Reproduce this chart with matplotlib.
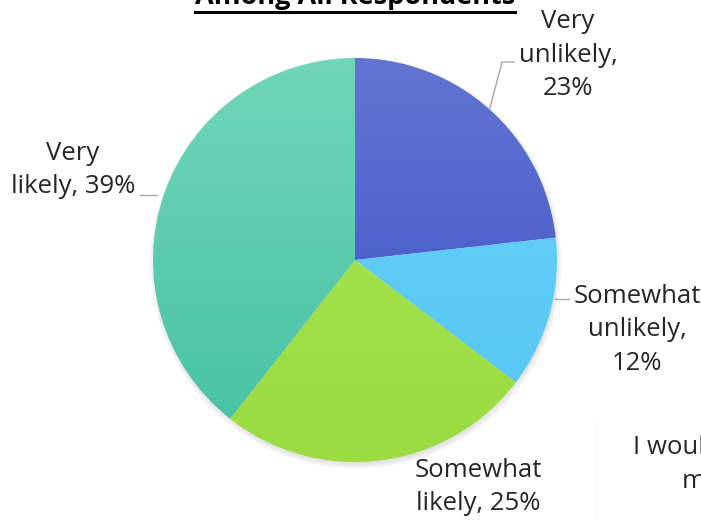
import matplotlib
matplotlib.use("Agg")
import matplotlib.pyplot as plt
import numpy as np
from matplotlib.colors import LinearSegmentedColormap
from matplotlib.patches import Circle

plt.rcParams['font.family'] = ['Open Sans', 'DejaVu Sans']

# data, clockwise from 12 o'clock
labels = ["Very\nunlikely,\n23%", "Somewhat\nunlikely,\n12%",
          "Somewhat\nlikely, 25%", "Very\nlikely, 39%"]
values = [23, 12, 25, 39]
# (top colour, bottom colour) of each slice gradient
grads = [("#6275d2", "#3a4ec5"), ("#6ad2f8", "#55c6f3"),
         ("#a9e654", "#9adc42"), ("#72d6b8", "#45c1a4")]

W, H = 701, 520
fig = plt.figure(figsize=(W / 100, H / 100), dpi=100)
ax = fig.add_axes([0, 0, 1, 1])

cx, cy, r = 355, 260, 202

# soft shadow under the pie
for k in range(8):
    ax.add_patch(Circle((cx + 1, cy - 3), r + 4 - k, color='#808080',
                        alpha=0.035, lw=0, zorder=0))

wedges, _ = ax.pie(values, center=(cx, cy), radius=r, startangle=90,
                   counterclock=False, frame=True,
                   wedgeprops=dict(linewidth=0))

grad = np.linspace(0, 1, 256).reshape(-1, 1)
for w, (top, bot) in zip(wedges, grads):
    w.set_facecolor('none')
    cmap = LinearSegmentedColormap.from_list('g', [top, bot])
    im = ax.imshow(grad, cmap=cmap, aspect='auto', origin='upper',
                   extent=[cx - r, cx + r, cy - r, cy + r], zorder=1)
    im.set_clip_path(w)
ax.set_xlim(0, W)
ax.set_ylim(0, H)
ax.set_aspect('equal')
ax.axis('off')

txt = dict(fontsize=18.5, color='#262626', ha='center', va='center',
           linespacing=1.45, zorder=3)
ax.text(568, 465, labels[0], **txt)
ax.text(637, 190, labels[1], **txt)
ax.text(478, 33, labels[2], **txt)
ax.text(73, 350, labels[3], **txt)

# leader lines
lc = dict(color='#a6a6a6', lw=1.0, zorder=2)
ax.plot([490, 502, 514], [412, 458, 458], **lc)
ax.plot([555, 569], [221, 221], **lc)
ax.plot([140, 157], [325, 325], **lc)

# title, mostly cropped off the top
t = ax.text(355, 510, "Among All Respondents", fontsize=19.5, fontweight='bold',
            color='black', ha='center', va='bottom', zorder=3)
fig.canvas.draw()
bb = t.get_window_extent().transformed(ax.transData.inverted())
ax.plot([bb.x0, bb.x1], [508, 508], color='black', lw=2.2, zorder=3)

# neighbouring chart text, cut at the right edge
ax.text(705, 72, "I woul", fontsize=18.5, color='#262626', ha='right',
        va='center', zorder=3)
ax.text(706, 38, "m", fontsize=18.5, color='#262626', ha='right',
        va='center', zorder=3)
ax.plot([597, 597], [0, 100], color='#f8f8f8', lw=1, zorder=0)

fig.savefig("out.png", dpi=100)
